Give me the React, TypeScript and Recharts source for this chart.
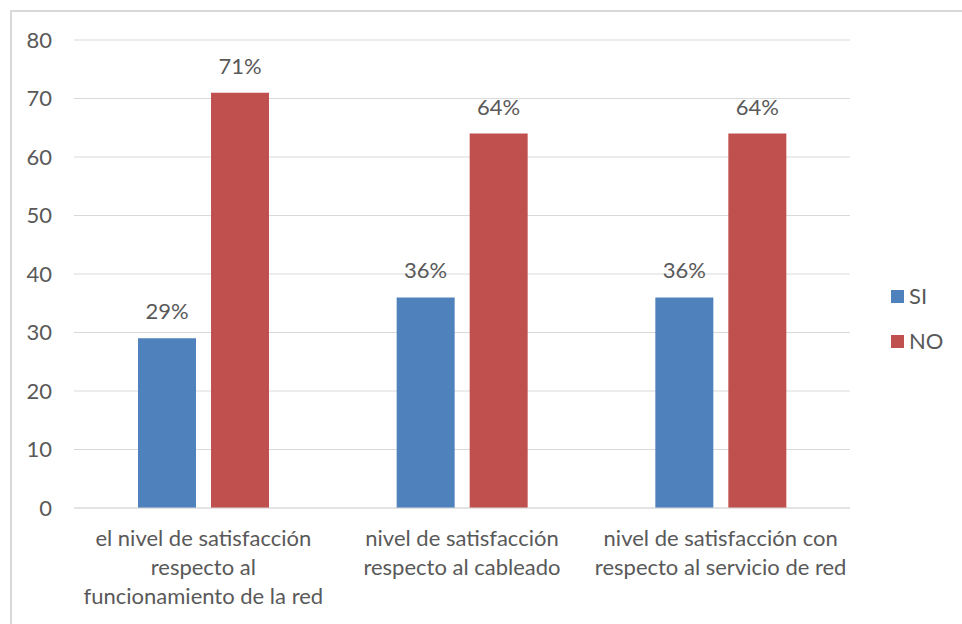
import React from 'react';
import { BarChart, Bar, XAxis, YAxis, CartesianGrid, Legend, LabelList } from 'recharts';

const categories = [
  'el nivel de satisfacción respecto al funcionamiento de la red',
  'nivel de satisfacción respecto al cableado',
  'nivel de satisfacción con respecto al servicio de red',
];
const categoryLines: string[][] = [
  ['el nivel de satisfacción', 'respecto al', 'funcionamiento de la red'],
  ['nivel de satisfacción', 'respecto al cableado'],
  ['nivel de satisfacción con', 'respecto al servicio de red'],
];
const siValues = [29, 36, 36];
const noValues = [71, 64, 64];
const yTicks = [0, 10, 20, 30, 40, 50, 60, 70, 80];
const seriesNames = ['SI', 'NO'];
const seriesColors = ['#4F81BD', '#C0504D'];

const data = categories.map((c, i) => ({ cat: c, idx: i, SI: siValues[i], NO: noValues[i] }));

const FONT = 'Lato, "Open Sans", sans-serif';
const TEXT = '#595959';
const FS = 22;

const CatTick = (props: any) => {
  const { x, y, payload } = props;
  const lines = categoryLines[payload.index] || [payload.value];
  return (
    <text x={x} y={y} textAnchor="middle" fill={TEXT} fontSize={FS} fontFamily={FONT}>
      {lines.map((l, i) => (
        <tspan key={i} x={x} y={y + 30 + i * 29}>{l}</tspan>
      ))}
    </text>
  );
};

const LegendContent = () => (
  <div style={{ position: 'relative', width: 98, height: 90, fontFamily: FONT, fontSize: FS, color: TEXT }}>
    {seriesNames.map((n, i) => (
      <div key={n} style={{ position: 'absolute', left: 41, top: 23 + i * 45 - 11, height: 22, display: 'flex', alignItems: 'center' }}>
        <div style={{ width: 13, height: 13, background: seriesColors[i], marginRight: 5 }} />
        <span style={{ lineHeight: '22px' }}>{n}</span>
      </div>
    ))}
  </div>
);

export default function App() {
  return (
    <div style={{ position: 'absolute', left: 10, top: 10, width: 952, height: 614, borderLeft: '2px solid #d9d9d9', borderTop: '2px solid #d9d9d9', background: '#fff', overflow: 'hidden' }}>
      <BarChart
        width={950}
        height={612}
        data={data}
        margin={{ top: 28, right: 14, bottom: 0, left: 0 }}
        barGap={15}
      >
        <CartesianGrid vertical={false} stroke="#d9d9d9" strokeWidth={1} />
        <XAxis
          dataKey="cat"
          tick={<CatTick />}
          tickLine={false}
          axisLine={{ stroke: '#d9d9d9' }}
          interval={0}
          height={116}
        />
        <YAxis
          domain={[0, 80]}
          ticks={yTicks}
          width={62}
          tickLine={false}
          axisLine={false}
          tickSize={0}
          tickMargin={22}
          tick={{ fill: TEXT, fontSize: FS, fontFamily: FONT }}
        />
        <Legend
          layout="vertical"
          align="right"
          verticalAlign="middle"
          content={<LegendContent />}
        />
        <Bar dataKey="SI" name="SI" fill={seriesColors[0]} barSize={58} isAnimationActive={false}>
          <LabelList dataKey="SI" position="top" offset={19} formatter={(v: any) => `${v}%`} fill={TEXT} fontSize={FS} fontFamily={FONT} />
        </Bar>
        <Bar dataKey="NO" name="NO" fill={seriesColors[1]} barSize={58} isAnimationActive={false}>
          <LabelList dataKey="NO" position="top" offset={19} formatter={(v: any) => `${v}%`} fill={TEXT} fontSize={FS} fontFamily={FONT} />
        </Bar>
      </BarChart>
    </div>
  );
}
